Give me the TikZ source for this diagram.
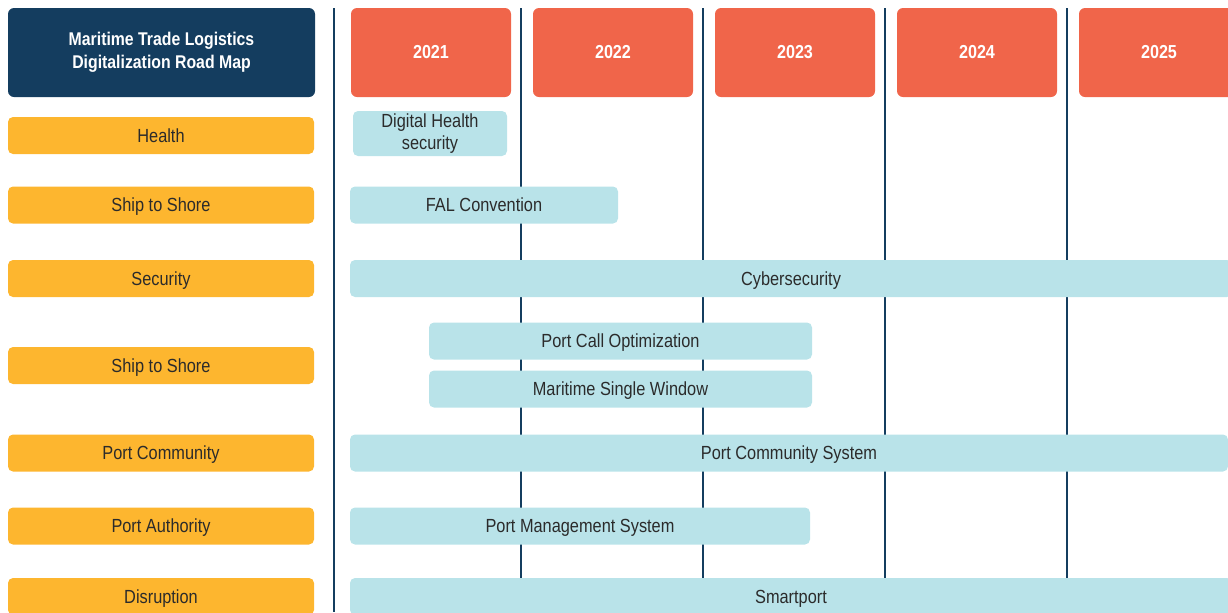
\documentclass[tikz,border=0pt]{standalone}
\usepackage{fontspec}
\setmainfont[FakeStretch=0.86]{Liberation Sans}
\usetikzlibrary{positioning}
\definecolor{navy}{HTML}{143D5F}
\definecolor{coral}{HTML}{F0654A}
\definecolor{amber}{HTML}{FDB62F}
\definecolor{paleblue}{HTML}{B9E3E9}
\definecolor{ink}{HTML}{2B2B2B}

\begin{document}
\begin{tikzpicture}[x=0.5pt,y=0.5pt]
    \tikzstyle{every node}+=[inner sep=0pt, font=\fontsize{9.5}{11}\selectfont]
    \tikzstyle{titlebox}=[fill=navy, rounded corners=3pt, text=white, align=center,
        minimum width=153.5pt, minimum height=44.5pt, font=\fontsize{9.2}{11.5}\selectfont\bfseries]
    \tikzstyle{yearbox}=[fill=coral, rounded corners=3pt, text=white,
        minimum width=80pt, minimum height=44.5pt, font=\fontsize{9.4}{11}\selectfont\bfseries]
    \tikzstyle{catbox}=[fill=amber, rounded corners=2.5pt, text=ink, text depth=0pt,
        minimum width=153pt, minimum height=18.5pt]
    \tikzstyle{barbox}=[fill=paleblue, rounded corners=2.5pt, text=ink, text depth=0pt,
        minimum height=18.5pt]
    \tikzstyle{gridline}=[navy, line width=0.55pt]
    \useasboundingbox (0,0) rectangle (1228,-612);
    % year grid
    \draw [gridline] (334,-8) -- (334,-612);
    \foreach \x in {521,703,885,1067}
        \draw [gridline] (\x,-8) -- (\x,-612);
    % heading row
    \node [titlebox] (title) at (161.5,-52.5) {Maritime Trade Logistics\\Digitalization Road Map};
    \node [yearbox] (y2021) at (431,-52.5) {2021};
    \node [yearbox] (y2022) at (613,-52.5) {2022};
    \node [yearbox] (y2023) at (795,-52.5) {2023};
    \node [yearbox] (y2024) at (977,-52.5) {2024};
    \node [yearbox] (y2025) at (1159,-52.5) {2025};
    % categories
    \node [catbox] (health) at (161,-135.5) {Health};
    \node [catbox] (shoreA) at (161,-205) {Ship to Shore};
    \node [catbox] (security) at (161,-278.5) {Security};
    \node [catbox] (shoreB) at (161,-365.5) {Ship to Shore};
    \node [catbox] (portcom) at (161,-453) {Port Community};
    \node [catbox] (portauth) at (161,-526) {Port Authority};
    \node [catbox] (disrupt) at (161,-596.5) {Disruption};
    % initiatives
    \node [barbox, align=center, text depth=, minimum width=77pt, minimum height=22.5pt] (dhs) at (430,-133.5) {Digital Health\\security};
    \node [barbox, minimum width=134pt] (fal) at (484,-205) {FAL Convention};
    \node [barbox, minimum width=441pt] (cyber) at (791,-278.5) {Cybersecurity};
    \node [barbox, minimum width=191.5pt] (pco) at (620.5,-341) {Port Call Optimization};
    \node [barbox, minimum width=191.5pt] (msw) at (620.5,-389) {Maritime Single Window};
    \node [barbox, minimum width=439pt] (pcs) at (789,-453) {Port Community System};
    \node [barbox, minimum width=230pt] (pms) at (580,-526) {Port Management System};
    \node [barbox, minimum width=441pt] (smart) at (791,-596.5) {Smartport};
\end{tikzpicture}
\end{document}
